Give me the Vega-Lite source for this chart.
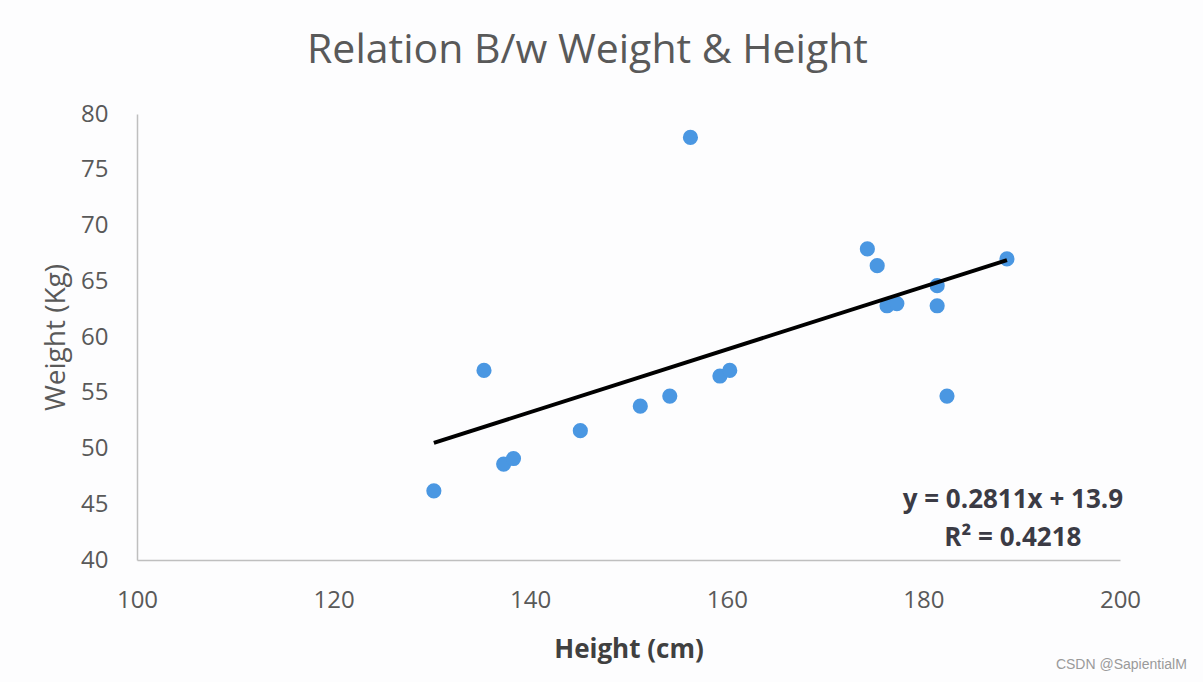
{
  "$schema": "https://vega.github.io/schema/vega-lite/v6.json",
  "autosize": "none",
  "width": 983,
  "height": 446,
  "padding": {"left": 137, "top": 114, "right": 83, "bottom": 122},
  "background": "#fdfdfe",
  "config": {"view": {"stroke": null}, "font": "Open Sans"},
  "title": {
    "text": "Relation B/w Weight & Height",
    "fontSize": 41,
    "fontWeight": "normal",
    "color": "#595959",
    "font": "Open Sans",
    "anchor": "middle",
    "dx": -41,
    "offset": -2,
    "baseline": "alphabetic"
  },
  "datasets": {
    "points": [
      {"height": 130.2, "weight": 46.2},
      {"height": 135.3, "weight": 57.0},
      {"height": 137.3, "weight": 48.6},
      {"height": 138.3, "weight": 49.1},
      {"height": 145.1, "weight": 51.6},
      {"height": 151.2, "weight": 53.8},
      {"height": 154.2, "weight": 54.7},
      {"height": 156.3, "weight": 77.9},
      {"height": 159.3, "weight": 56.5},
      {"height": 160.3, "weight": 57.0},
      {"height": 174.3, "weight": 67.9},
      {"height": 175.3, "weight": 66.4},
      {"height": 176.3, "weight": 62.8},
      {"height": 177.3, "weight": 63.0},
      {"height": 181.4, "weight": 64.6},
      {"height": 181.4, "weight": 62.8},
      {"height": 182.4, "weight": 54.7},
      {"height": 188.5, "weight": 67.0}
    ],
    "trend": [
      {"height": 130.2, "weight": 50.5},
      {"height": 188.5, "weight": 66.9}
    ],
    "notes": [
      {"height": 189.1, "weight": 45.4, "label": "y = 0.2811x + 13.9"},
      {"height": 189.1, "weight": 42.0, "label": "R² = 0.4218"}
    ],
    "mark": [
      {"height": 206.8, "weight": 30.6, "label": "CSDN @SapientialM"}
    ]
  },
  "layer": [
    {
      "data": {"name": "points"},
      "mark": {"type": "circle", "size": 230, "opacity": 1, "color": "#4a97e2"},
      "encoding": {
        "x": {
          "field": "height", "type": "quantitative",
          "scale": {"domain": [100, 200], "nice": false, "zero": false},
          "axis": {
            "title": "Height (cm)",
            "values": [100, 120, 140, 160, 180, 200],
            "grid": false, "ticks": false,
            "domainColor": "#bfbfbf", "domainWidth": 1.5,
            "labelFontSize": 24, "labelColor": "#595959", "labelPadding": 28,
            "labelFont": "Open Sans", "labelFlush": false,
            "titleFontSize": 26, "titleFontWeight": "bold", "titleColor": "#404040",
            "titleFont": "Open Sans", "titlePadding": 24
          }
        },
        "y": {
          "field": "weight", "type": "quantitative",
          "scale": {"domain": [40, 80], "nice": false, "zero": false},
          "axis": {
            "title": "Weight (Kg)",
            "values": [40, 45, 50, 55, 60, 65, 70, 75, 80],
            "grid": false, "ticks": false,
            "domainColor": "#bfbfbf", "domainWidth": 1.5,
            "labelFontSize": 24, "labelColor": "#595959", "labelPadding": 29,
            "labelFont": "Open Sans", "labelFlush": false,
            "titleFontSize": 28, "titleFontWeight": "normal", "titleColor": "#595959",
            "titleFont": "Open Sans", "titlePadding": 10
          }
        }
      }
    },
    {
      "data": {"name": "trend"},
      "mark": {"type": "line", "color": "#000000", "strokeWidth": 4},
      "encoding": {
        "x": {"field": "height", "type": "quantitative"},
        "y": {"field": "weight", "type": "quantitative"}
      }
    },
    {
      "data": {"name": "notes"},
      "mark": {"type": "text", "fontSize": 26, "fontWeight": "bold", "color": "#3b3b45", "align": "center", "baseline": "middle", "font": "Open Sans"},
      "encoding": {
        "x": {"field": "height", "type": "quantitative"},
        "y": {"field": "weight", "type": "quantitative"},
        "text": {"field": "label"}
      }
    },
    {
      "data": {"name": "mark"},
      "mark": {"type": "text", "fontSize": 14, "color": "#9a9a9a", "align": "right", "baseline": "middle", "font": "Liberation Sans"},
      "encoding": {
        "x": {"field": "height", "type": "quantitative"},
        "y": {"field": "weight", "type": "quantitative"},
        "text": {"field": "label"}
      }
    }
  ]
}
